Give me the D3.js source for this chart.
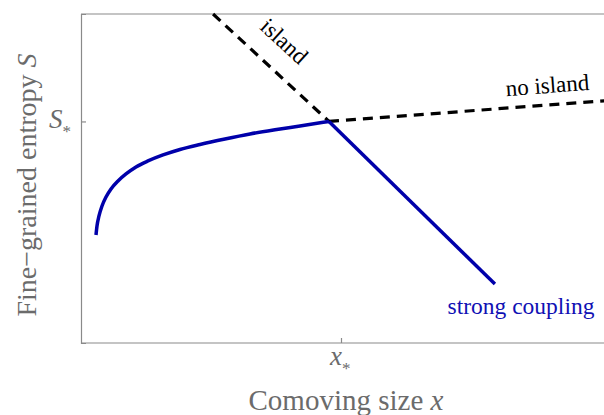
<!DOCTYPE html>
<html>
<head>
<meta charset="utf-8">
<script src="https://cdn.jsdelivr.net/npm/d3@7"></script>
<style>
  body { margin: 0; background: white; }
  text { font-family: "Liberation Serif", "DejaVu Serif", serif; }
</style>
</head>
<body>
<svg id="chart" width="604" height="415"></svg>
<script>
// data (x in units of x*, S in units of S*)
var curveX = [0.0577, 0.0615, 0.0692, 0.0808, 0.0962, 0.1154, 0.1423, 0.1731, 0.2115,
  0.2577, 0.3154, 0.3808, 0.4577, 0.5538, 0.6500, 0.7462, 0.8423, 0.9538];
var curveS = [0.4876, 0.5282, 0.5734, 0.6185, 0.6591, 0.6953, 0.7314, 0.7630, 0.7946,
  0.8217, 0.8488, 0.8736, 0.8962, 0.9210, 0.9436, 0.9625, 0.9797, 1.0];
var strongX = [0.9538, 1.592];
var strongS = [1.0, 0.266];
var islandX = [0.508, 0.9538];
var islandS = [1.485, 1.0];
var noIslandX = [0.9538, 2.02];
var noIslandS = [1.0, 1.094];
var xTicks = [1];
var yTicks = [1];

var svg = d3.select("#chart");
var x = d3.scaleLinear().domain([0, 2]).range([81, 601]);
var y = d3.scaleLinear().domain([0, 1.485]).range([343, 14]);

var axisCol = "#8a8a8a";
var labelCol = "#6b6b6b";

// frame
svg.append("line").attr("x1", 81).attr("x2", 604).attr("y1", 14).attr("y2", 14)
  .attr("stroke", axisCol).attr("stroke-width", 1.2);

var gx = svg.append("g").attr("transform", "translate(0,343)")
  .call(d3.axisBottom(x).tickValues(xTicks).tickSize(-5).tickFormat(""));
gx.select(".domain").attr("d", "M81,0H604");
var gy = svg.append("g").attr("transform", "translate(81,0)")
  .call(d3.axisLeft(y).tickValues(yTicks).tickSize(-5).tickFormat(""));
[gx, gy].forEach(function (g) {
  g.selectAll("path,line").attr("stroke", axisCol).attr("stroke-width", 1.2);
});

// tick labels with subscript star
var xl = svg.append("text").attr("x", x(1) - 11).attr("y", 365)
  .attr("fill", labelCol).style("font-size", "27px").style("font-style", "italic").text("x");
xl.append("tspan").attr("dy", 9).style("font-size", "17px").style("font-style", "normal").text("*");

var yl = svg.append("text").attr("x", 49).attr("y", y(1) + 7)
  .attr("fill", labelCol).style("font-size", "27px").style("font-style", "italic").text("S");
yl.append("tspan").attr("dy", 9).style("font-size", "17px").style("font-style", "normal").text("*");

// axis titles
var xt = svg.append("text").attr("x", 346).attr("y", 410).attr("text-anchor", "middle")
  .attr("fill", labelCol).style("font-size", "29px").text("Comoving size ");
xt.append("tspan").style("font-style", "italic").text("x");

var yt = svg.append("text").attr("transform", "translate(36,185) rotate(-90)")
  .attr("text-anchor", "middle").attr("fill", labelCol).style("font-size", "28px")
  .text("Fine\u2212grained entropy ");
yt.append("tspan").style("font-style", "italic").text("S");

// lines
var line = d3.line().x(function (d) { return x(d[0]); }).y(function (d) { return y(d[1]); });
function pairs(xs, ys) { return xs.map(function (v, i) { return [v, ys[i]]; }); }

svg.append("path").datum(pairs(islandX, islandS)).attr("d", line)
  .attr("fill", "none").attr("stroke", "black").attr("stroke-width", 3.2)
  .attr("stroke-dasharray", "10,7");
svg.append("path").datum(pairs(noIslandX, noIslandS)).attr("d", line)
  .attr("fill", "none").attr("stroke", "black").attr("stroke-width", 3.2)
  .attr("stroke-dasharray", "10,7");

svg.append("path").datum(pairs(curveX, curveS))
  .attr("d", d3.line().curve(d3.curveMonotoneX)
    .x(function (d) { return x(d[0]); }).y(function (d) { return y(d[1]); }))
  .attr("fill", "none").attr("stroke", "#0000aa").attr("stroke-width", 3.5);
svg.append("path").datum(pairs(strongX, strongS)).attr("d", line)
  .attr("fill", "none").attr("stroke", "#0000aa").attr("stroke-width", 3.5);

// annotations
svg.append("text").attr("transform", "translate(279,47) rotate(42.7)")
  .attr("text-anchor", "middle").attr("fill", "black").style("font-size", "23px").text("island");
svg.append("text").attr("transform", "translate(548,93) rotate(-4.3)")
  .attr("text-anchor", "middle").attr("fill", "black").style("font-size", "23px").text("no island");
svg.append("text").attr("x", 521).attr("y", 314).attr("text-anchor", "middle")
  .attr("fill", "#1010b4").style("font-size", "23.5px").text("strong coupling");
</script>
</body>
</html>
